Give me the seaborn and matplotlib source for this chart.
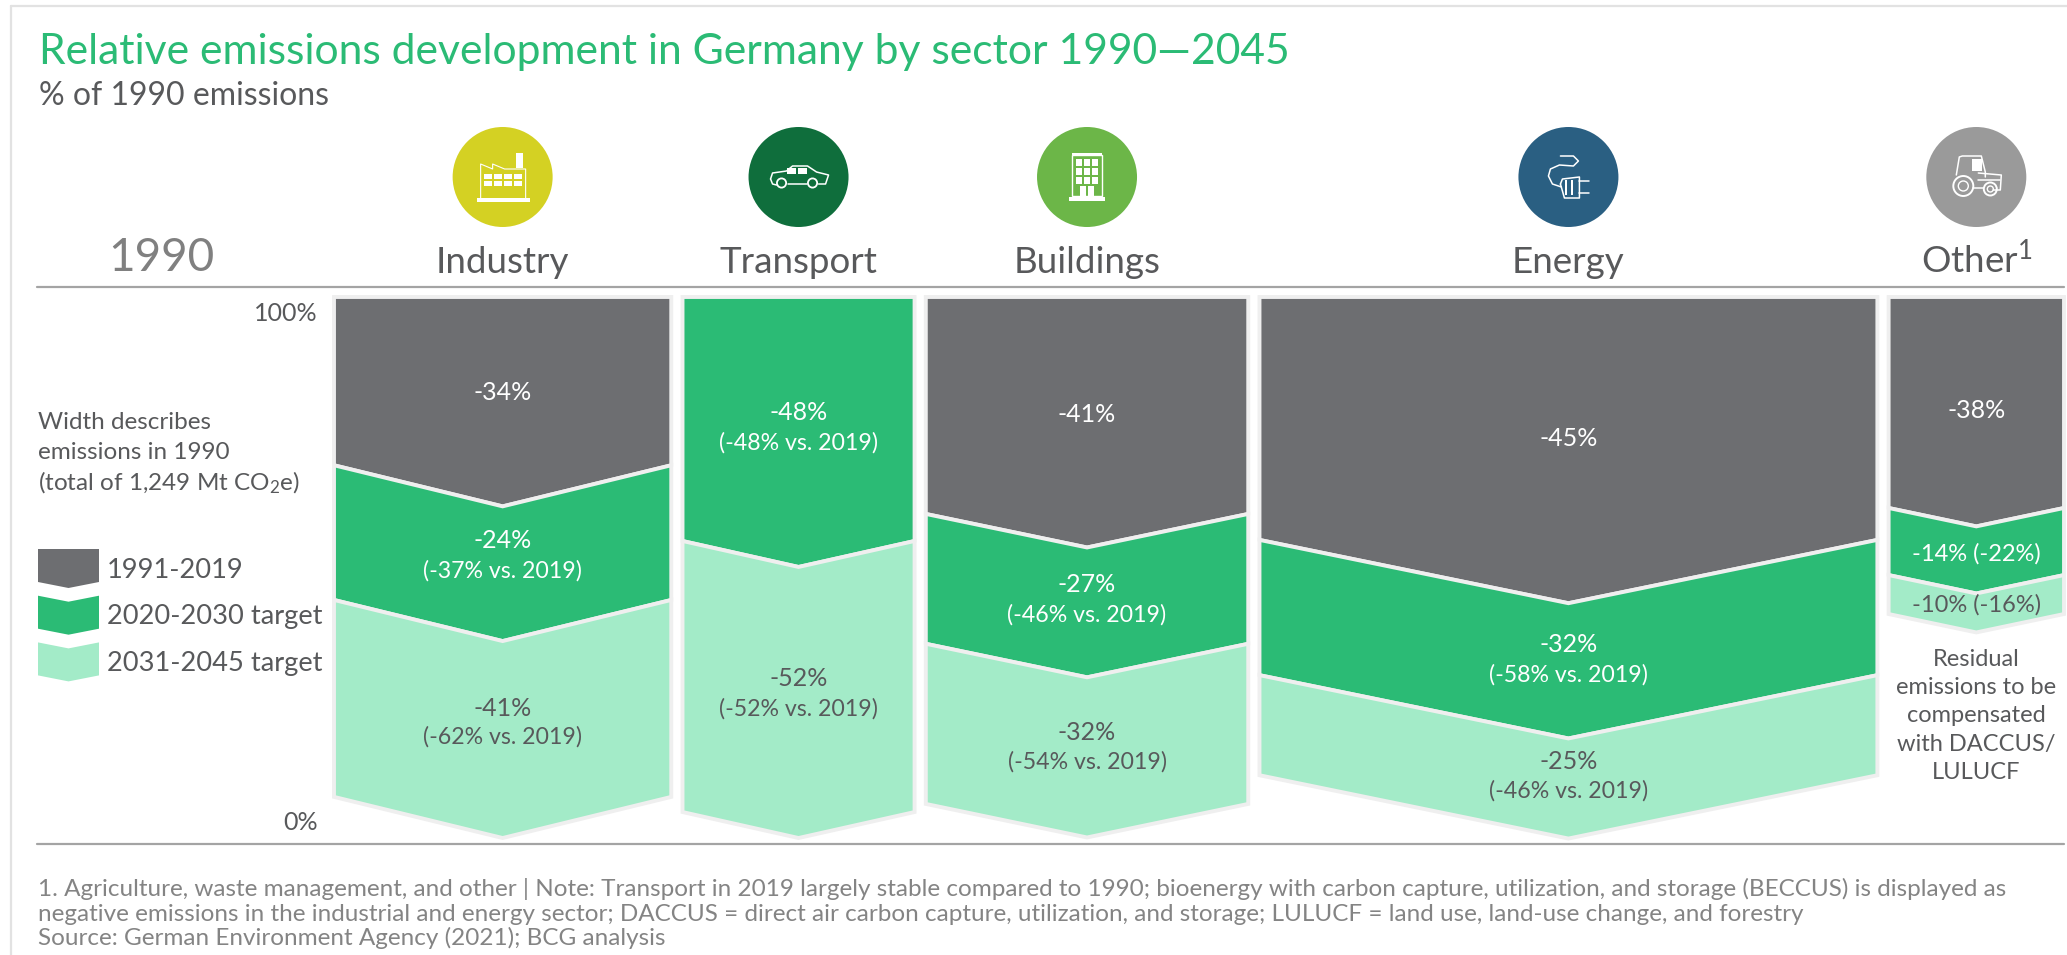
import numpy as np
import matplotlib
matplotlib.use('Agg')
import matplotlib.pyplot as plt
from matplotlib.patches import Circle, Rectangle, Polygon
from matplotlib.transforms import ScaledTranslation
import seaborn as sns

sectors = ['Industry', 'Transport', 'Buildings', 'Energy', 'Other$^1$']
# width of each column (sums to 1,249 Mt)
emissions_1990 = [250, 172, 239, 458, 130]

# drawn height of each band in % of the column, tip = shoulder - notch
hist_height = [31.1, 0.0, 40.1, 44.9, 39.0]
mid_height = [24.9, 45.1, 24.0, 25.0, 12.4]
late_height = [36.4, 50.1, 29.6, 18.5, 7.2]
notch = [7.6, 4.8, 6.2, 11.7, 3.4]

hist_labels = ['-34%', '', '-41%', '-45%', '-38%']
mid_labels = ['-24%', '-48%', '-27%', '-32%', '-14%']
mid_vs = ['(-37% vs. 2019)', '(-48% vs. 2019)', '(-46% vs. 2019)', '(-58% vs. 2019)', '(-22%)']
late_labels = ['-41%', '-52%', '-32%', '-25%', '-10%']
late_vs = ['(-62% vs. 2019)', '(-52% vs. 2019)', '(-54% vs. 2019)', '(-46% vs. 2019)', '(-16%)']

legend_labels = ['1991-2019', '2020-2030 target', '2031-2045 target']
footnotes = [
    '1. Agriculture, waste management, and other | Note: Transport in 2019 largely stable compared to 1990; bioenergy with carbon capture, utilization, and storage (BECCUS) is displayed as',
    'negative emissions in the industrial and energy sector; DACCUS = direct air carbon capture, utilization, and storage; LULUCF = land use, land-use change, and forestry',
    'Source: German Environment Agency (2021); BCG analysis',
]

GREY, GREEN, LIGHT = '#6d6e71', '#2bbb75', '#a3ebc8'
TEXT = '#58595b'
EDGE = '#efefef'
icon_colours = ['#d4d123', '#0f6e3c', '#6cb648', '#2a5f82', '#9a9a9a']

W, H = 2067, 955
TOP_PX, ZERO_PX = 297, 838
LEFT_PX, RIGHT_PX = 334, 2064
GAP_PX = 11.25


def pct(py):
    return (ZERO_PX - py) * 100 / (ZERO_PX - TOP_PX)


sns.set_theme(style='white')
plt.rcParams['font.family'] = ['Lato', 'DejaVu Sans']
plt.rcParams['mathtext.default'] = 'regular'

fig = plt.figure(figsize=(W / 100, H / 100), dpi=100)
ax = fig.add_axes([LEFT_PX / W, 1 - ZERO_PX / H, (RIGHT_PX - LEFT_PX) / W, (ZERO_PX - TOP_PX) / H])
over = fig.add_axes([0, 0, 1, 1], zorder=5)
over.set_xlim(0, W)
over.set_ylim(H, 0)
over.axis('off')
over.patch.set_alpha(0)
ax.patch.set_alpha(0)

# x axis in Mt, with a fixed gap between the columns
widths = np.array(emissions_1990, dtype=float)
gap = GAP_PX * widths.sum() / (RIGHT_PX - LEFT_PX - 4 * GAP_PX)
lefts = np.concatenate([[0], np.cumsum(widths + gap)[:-1]])
centers = lefts + widths / 2
ax.set_xlim(0, widths.sum() + 4 * gap)
ax.set_ylim(0, 100)


def chevron(axis, x0, x1, top_s, top_t, bot_s, bot_t, color, lw=2.8):
    mid = (x0 + x1) / 2
    pts = [(x0, top_s), (mid, top_t), (x1, top_s), (x1, bot_s), (mid, bot_t), (x0, bot_s)]
    axis.add_patch(Polygon(pts, closed=True, facecolor=color, edgecolor=EDGE, linewidth=lw,
                           joinstyle='miter', clip_on=False))


for i in range(len(sectors)):
    level, prev_notch = 100.0, 0.0
    for h, c in zip([hist_height[i], mid_height[i], late_height[i]], [GREY, GREEN, LIGHT]):
        if h == 0:
            continue
        bottom = level - h
        chevron(ax, lefts[i], lefts[i] + widths[i], level, level - prev_notch, bottom, bottom - notch[i], c)
        level, prev_notch = bottom, notch[i]

# band labels, y in picture pixels
hist_py = [392, 0, 414, 439, 410]
mid_py = [541, 413, 584, 645, 554]
mid_vs_py = [571, 443, 615, 675, 554]
late_py = [708, 679, 732, 761, 605]
late_vs_py = [737, 709, 762, 791, 605]
MAIN_FS, SUB_FS = 18, 16.7

for i in range(len(sectors)):
    if hist_labels[i]:
        ax.text(centers[i], pct(hist_py[i]), hist_labels[i], color='white', fontsize=MAIN_FS, ha='center', va='center')
    for text, vs, py, py2, col in [(mid_labels[i], mid_vs[i], mid_py[i], mid_vs_py[i], 'white'),
                                   (late_labels[i], late_vs[i], late_py[i], late_vs_py[i], TEXT)]:
        if i == 4:
            ax.text(centers[i], pct(py), text + ' ' + vs, color=col, fontsize=MAIN_FS - 1, ha='center', va='center')
        else:
            ax.text(centers[i], pct(py), text, color=col, fontsize=MAIN_FS, ha='center', va='center')
            ax.text(centers[i], pct(py2), vs, color=col, fontsize=SUB_FS, ha='center', va='center')

# icon discs
sns.scatterplot(x=centers, y=[pct(177)] * 5, hue=sectors, palette=icon_colours, s=5184, linewidth=0,
                legend=False, clip_on=False, ax=ax)
ax.set_xlim(0, widths.sum() + 4 * gap)
ax.set_ylim(0, 100)

# sector names on top, 100%/0% on the left
ax.xaxis.tick_top()
ax.set_xticks(centers)
ax.set_xticklabels(sectors, fontsize=26.5, color=TEXT)
ax.tick_params(axis='x', length=0, pad=13)
ax.set_yticks([0, 100])
ax.set_yticklabels(['0%', '100%'], fontsize=18, color=TEXT)
ax.tick_params(axis='y', length=0, pad=11.5)
zero_label, hundred_label = ax.get_yticklabels()
zero_label.set_va('bottom')
hundred_label.set_va('top')
zero_label.set_transform(zero_label.get_transform() + ScaledTranslation(0, 4 / 100, fig.dpi_scale_trans))
hundred_label.set_transform(hundred_label.get_transform() + ScaledTranslation(0, -5 / 100, fig.dpi_scale_trans))
sns.despine(ax=ax, left=True, bottom=True, top=True, right=True)
ax.set_xlabel('')
ax.set_ylabel('')

# frame and rules
over.plot([11, 11], [6, H], color='#e2e2e2', lw=1.6)
over.plot([11, W], [6, 6], color='#e2e2e2', lw=1.6)
over.plot([37, 2064], [287, 287], color='#a4a4a4', lw=1.6)
over.plot([37, 2064], [843.5, 843.5], color='#a4a4a4', lw=1.6)

# titles
over.text(39, 52, 'Relative emissions development in Germany by sector 1990\u20142045', color='#2bbb75',
          fontsize=30.7, va='center')
over.text(39, 96, '% of 1990 emissions', color=TEXT, fontsize=23, va='center')
over.text(161, 258, '1990', color='#808080', fontsize=33, ha='center', va='center')

for py, line in zip([422, 452, 483], ['Width describes', 'emissions in 1990', '(total of 1,249 Mt CO$_2$e)']):
    over.text(38, py, line, color=TEXT, fontsize=17.5, va='center')

# legend swatches
for i, (c, lab) in enumerate(zip([GREY, GREEN, LIGHT], legend_labels)):
    y0 = 549 + i * 46.7
    chevron(over, 38, 99, y0, y0 + (6 if i else 0), y0 + 33, y0 + 39, c, lw=0)
    over.text(107, y0 + 21, lab, color=TEXT, fontsize=19.6, va='center')

# residual note under Other
for py, line in zip([659, 687, 715, 744, 772], ['Residual', 'emissions to be', 'compensated', 'with DACCUS/', 'LULUCF']):
    ax.text(centers[4], pct(py), line, color=TEXT, fontsize=17, ha='center', va='center', clip_on=False)

for py, line in zip([889, 914, 938], footnotes):
    over.text(38, py, line, color='#848484', fontsize=17.5, va='center')


# small white pictograms, offsets in pixels from the centre of each disc
def icon_line(cx, cy, xs, ys, lw=1.1):
    over.plot(cx + np.array(xs), cy + np.array(ys), color='white', lw=lw, solid_capstyle='round')


def icon_box(cx, cy, x, y, w, h, fill=True, lw=1.0):
    over.add_patch(Rectangle((cx + x, cy + y), w, h, facecolor='white' if fill else 'none', edgecolor='white',
                             linewidth=0 if fill else lw))


def icon_ring(cx, cy, x, y, r, lw=1.3):
    over.add_patch(Circle((cx + x, cy + y), r, facecolor='none', edgecolor='white', linewidth=lw))


px_centers = [LEFT_PX + c * (RIGHT_PX - LEFT_PX) / (widths.sum() + 4 * gap) for c in centers]

cx, cy = px_centers[0], 177
icon_box(cx, cy, -26, 21, 53, 4)
icon_line(cx, cy, [-22, -22, -10, -10, 2, 2, 23, 23], [21, -13, -8, -13, -8, -8, -8, 21], lw=0.8)
icon_box(cx, cy, 13, -24, 7, 15)
for j in range(4):
    for k in range(2):
        icon_box(cx, cy, -19 + j * 10, -3 + k * 7, 8, 5)

cx = px_centers[1]
icon_line(cx, cy, [-28, -26, -12, -6, 9, 18, 30, 27, 20], [2, -4, -6, -11, -11, -5, -2, 7, 7])
icon_line(cx, cy, [-28, -26, -22], [2, 7, 8])
icon_line(cx, cy, [-11, 8], [7, 7])
icon_box(cx, cy, -12, -9, 9, 6)
icon_box(cx, cy, -1, -9, 9, 6)
icon_ring(cx, cy, -17, 6, 4.6)
icon_ring(cx, cy, 14, 6, 4.6)

cx = px_centers[2]
icon_box(cx, cy, -15, -22, 30, 41, fill=False)
icon_box(cx, cy, -15, -24, 30, 2)
icon_box(cx, cy, -18, 20, 36, 4)
for j in range(3):
    for k in range(3):
        icon_box(cx, cy, -11 + j * 8, -18 + k * 9, 6, 7)
icon_box(cx, cy, -7, 9, 6, 10)
icon_box(cx, cy, 1, 9, 6, 10)

cx = px_centers[3]
icon_line(cx, cy, [-7, -16, -20, -18, -9, 5, 10, 5, -8], [10, 7, -1, -8, -12, -11, -16, -21, -21])
icon_line(cx, cy, [-8, -6, 11, 11, -4, -8], [7, 2, 0, 21, 21, 7])
icon_box(cx, cy, -3, 3, 2, 15)
icon_box(cx, cy, 3, 3, 2, 15)
icon_line(cx, cy, [11, 21], [4, 4])
icon_line(cx, cy, [11, 21], [16, 16])

cx = px_centers[4]
icon_line(cx, cy, [-20, -17, -14, 5, 9, 9], [-2, -20, -21, -21, -5, 0])
icon_box(cx, cy, -4, -18, 10, 12)
icon_line(cx, cy, [2, 25, 24, 17], [-4, -2, 13, 13])
icon_line(cx, cy, [2, 24], [3, 3])
icon_line(cx, cy, [-3, 7], [11, 11])
icon_ring(cx, cy, -13, 9, 10, lw=1.4)
icon_ring(cx, cy, -13, 9, 5, lw=1.0)
icon_ring(cx, cy, 14, 12, 6.5, lw=1.4)
icon_ring(cx, cy, 14, 12, 3, lw=1.0)

fig.savefig('out.png', dpi=100)
